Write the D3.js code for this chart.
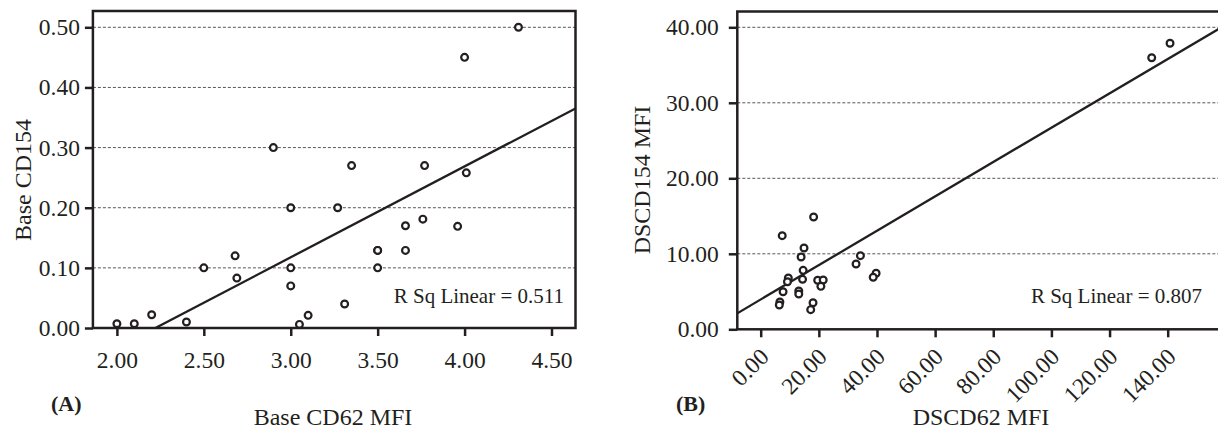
<!DOCTYPE html>
<html>
<head>
<meta charset="utf-8">
<script src="https://cdn.jsdelivr.net/npm/d3@7"></script>
<style>
  body { margin: 0; background: #fff; }
  svg { display: block; font-family: 'Liberation Serif', 'Times New Roman', serif; }
</style>
</head>
<body>
<svg id="chart"></svg>
<script>
// panel A : Base CD62 MFI vs Base CD154
let cd62Base = [2.00, 2.10, 2.20, 2.40, 2.50, 2.68, 2.69, 2.90, 3.00, 3.00, 3.00, 3.05, 3.10,
                3.27, 3.31, 3.35, 3.50, 3.50, 3.50, 3.66, 3.66, 3.76, 3.77, 3.96, 4.00, 4.01, 4.31];
let cd154Base = [0.007, 0.007, 0.022, 0.010, 0.100, 0.120, 0.083, 0.300, 0.200, 0.100, 0.070, 0.006, 0.021,
                 0.200, 0.040, 0.270, 0.129, 0.100, 0.129, 0.170, 0.129, 0.181, 0.270, 0.169, 0.450, 0.258, 0.500];
let ticksAx = [2.00, 2.50, 3.00, 3.50, 4.00, 4.50];
let ticksAy = [0.00, 0.10, 0.20, 0.30, 0.40, 0.50];
let fitA = { slope: 0.1511, intercept: -0.3357 };
let rsqA = 'R Sq Linear = 0.511';

// panel B : DSCD62 MFI vs DSCD154 MFI
let cd62DS = [18.2, 7.4, 14.9, 13.9, 34.3, 32.8, 14.6, 39.7, 38.7, 9.5, 9.2, 14.4, 19.6, 21.5,
              20.7, 7.7, 13.1, 13.1, 6.6, 6.4, 18.0, 17.2, 134.5, 140.8];
let cd154DS = [14.87, 12.4, 10.77, 9.58, 9.75, 8.65, 7.81, 7.42, 6.89, 6.8, 6.3, 6.62, 6.49, 6.53,
               5.69, 4.98, 5.07, 4.68, 3.62, 3.22, 3.52, 2.6, 35.97, 37.88];
let ticksBx = [0, 20, 40, 60, 80, 100, 120, 140];
let ticksBy = [0, 10, 20, 30, 40];
let fitB = { slope: 0.2275, intercept: 3.95 };
let rsqB = 'R Sq Linear = 0.807';

let width = 1218;
let height = 429;
let ink = '#231f20';

let svg = d3.select('#chart')
            .attr('width', width)
            .attr('height', height);

let drawPanel = (p) => {
    let g = svg.append('g');
    let left = p.xScale.range()[0] - p.padL;
    let right = p.xScale.range()[1] + p.padR;
    let top = p.top;
    let bottom = p.yScale(0);

    let xMin = p.xScale.invert(left);
    let xMax = p.xScale.invert(right);

    g.append('clipPath')
     .attr('id', 'clip' + p.id)
     .append('rect')
     .attr('x', left)
     .attr('y', top)
     .attr('width', right - left)
     .attr('height', bottom - top);

    // dashed gridlines
    g.selectAll('.grid')
     .data(p.yTicks.filter(d => d > 0))
     .enter()
     .append('line')
     .attr('x1', left)
     .attr('x2', right)
     .attr('y1', d => p.yScale(d))
     .attr('y2', d => p.yScale(d))
     .attr('stroke', '#444')
     .attr('stroke-width', 0.9)
     .attr('stroke-dasharray', '3,2');

    // fit line
    g.append('line')
     .attr('clip-path', `url(#clip${p.id})`)
     .attr('x1', p.xScale(xMin))
     .attr('y1', p.yScale(p.fit.intercept + p.fit.slope * xMin))
     .attr('x2', p.xScale(xMax))
     .attr('y2', p.yScale(p.fit.intercept + p.fit.slope * xMax))
     .attr('stroke', ink)
     .attr('stroke-width', 2.3);

    // points
    g.selectAll('.dot')
     .data(d3.zip(p.xs, p.ys))
     .enter()
     .append('circle')
     .attr('cx', d => p.xScale(d[0]))
     .attr('cy', d => p.yScale(d[1]))
     .attr('r', 3.4)
     .attr('fill', '#fff')
     .attr('stroke', ink)
     .attr('stroke-width', 2.2);

    // frame
    g.append('rect')
     .attr('x', left)
     .attr('y', top)
     .attr('width', right - left)
     .attr('height', bottom - top)
     .attr('fill', 'none')
     .attr('stroke', ink)
     .attr('stroke-width', 2.5);

    let yAxis = d3.axisLeft(p.yScale)
                  .tickValues(p.yTicks)
                  .tickSize(p.yTickSize)
                  .tickPadding(p.yPad)
                  .tickFormat(d3.format('.2f'));

    let ya = g.append('g')
              .attr('transform', `translate(${left}, 0)`)
              .call(yAxis);

    let xAxis = d3.axisBottom(p.xScale)
                  .tickValues(p.xTicks)
                  .tickSize(8)
                  .tickPadding(15)
                  .tickFormat(d3.format('.2f'));

    let xa = g.append('g')
              .attr('transform', `translate(0, ${bottom})`)
              .call(xAxis);

    [ya, xa].forEach(a => {
        a.select('.domain').remove();
        a.selectAll('line').attr('stroke', ink).attr('stroke-width', 2.5);
        a.selectAll('text')
         .attr('fill', ink)
         .style('font-size', '23.5px')
         .style('font-family', 'Liberation Serif');
    });

    if (p.rotate) {
        xa.selectAll('text')
          .attr('y', 0)
          .attr('dy', 0)
          .attr('text-anchor', 'end')
          .attr('transform', 'translate(9, 29) rotate(-45)');
    }

    g.append('text')
     .attr('x', p.rsqX)
     .attr('y', 303)
     .attr('text-anchor', 'end')
     .attr('fill', ink)
     .style('font-size', '21px')
     .text(p.rsq);

    g.append('text')
     .attr('transform', `translate(${p.yLabelX}, 180) rotate(-90)`)
     .attr('text-anchor', 'middle')
     .attr('fill', ink)
     .style('font-size', '24px')
     .text(p.yLabel);

    g.append('text')
     .attr('x', p.xLabelX)
     .attr('y', 425)
     .attr('text-anchor', 'middle')
     .attr('fill', ink)
     .style('font-size', '24px')
     .text(p.xLabel);

    g.append('text')
     .attr('x', p.tagX)
     .attr('y', 411)
     .attr('fill', ink)
     .style('font-size', '22px')
     .style('font-weight', 'bold')
     .text(p.tag);
};

drawPanel({
    id: 'A',
    xs: cd62Base,
    ys: cd154Base,
    xScale: d3.scaleLinear().domain([2.0, 4.5]).range([116.9, 551.5]),
    yScale: d3.scaleLinear().domain([0, 0.5]).range([328, 27.3]),
    padL: 24, padR: 24, top: 11,
    xTicks: ticksAx, yTicks: ticksAy,
    yTickSize: 8, yPad: 5,
    fit: fitA, rsq: rsqA, rsqX: 564,
    yLabel: 'Base CD154', yLabelX: 31,
    xLabel: 'Base CD62 MFI', xLabelX: 333,
    tag: '(A)', tagX: 51,
    rotate: false
});

drawPanel({
    id: 'B',
    xs: cd62DS,
    ys: cd154DS,
    xScale: d3.scaleLinear().domain([0, 140]).range([760.7, 1167.7]),
    yScale: d3.scaleLinear().domain([0, 40]).range([329.3, 27.3]),
    padL: 23.4, padR: 53.5, top: 11.5,
    xTicks: ticksBx, yTicks: ticksBy,
    yTickSize: 8.5, yPad: 10,
    fit: fitB, rsq: rsqB, rsqX: 1202,
    yLabel: 'DSCD154 MFI', yLabelX: 650,
    xLabel: 'DSCD62 MFI', xLabelX: 981,
    tag: '(B)', tagX: 676,
    rotate: true
});
</script>
</body>
</html>
